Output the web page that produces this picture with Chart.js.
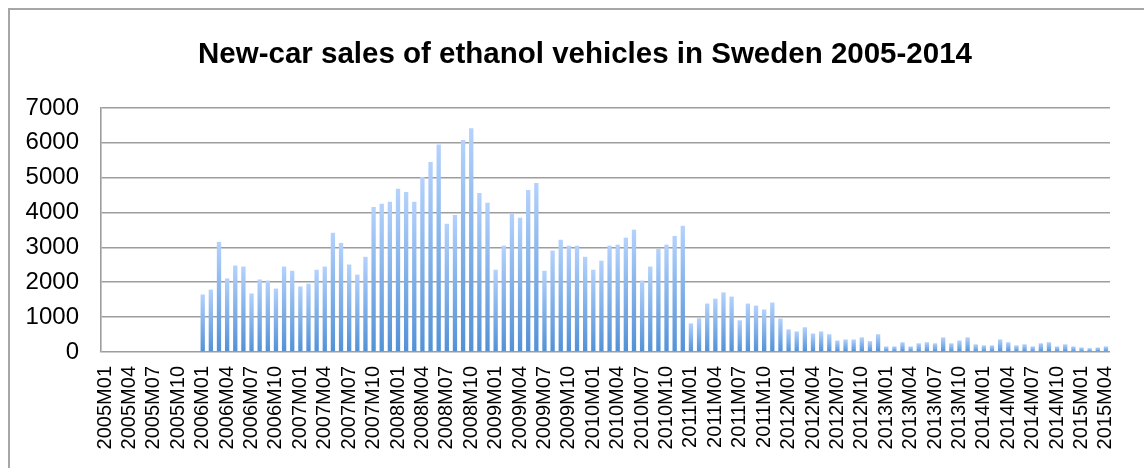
<!DOCTYPE html>
<html>
<head>
<meta charset="utf-8">
<script src="https://cdn.jsdelivr.net/npm/chart.js@4/dist/chart.umd.min.js"></script>
<style>
  html, body { margin: 0; padding: 0; background: #fff; }
  #frame { position: absolute; left: 8px; top: 8px; width: 1200px; height: 500px; border-left: 2px solid #a6a6a6; border-top: 2px solid #a6a6a6; }
  #salesChart { position: absolute; left: 0; top: 0; }
</style>
</head>
<body>
<div id="frame"></div>
<canvas id="salesChart" width="1144" height="468"></canvas>
<script>
const TITLE = "New-car sales of ethanol vehicles in Sweden 2005-2014";
const FONT = "'Liberation Sans', Arial, sans-serif";

// Months 2005M01 .. 2015M04
const years = [2005, 2006, 2007, 2008, 2009, 2010, 2011, 2012, 2013, 2014, 2015];
const monthCodes = ["01", "02", "03", "04", "05", "06", "07", "08", "09", "10", "11", "12"];
const months = [];
for (const y of years) {
  for (const m of monthCodes) {
    if (y === 2015 && Number(m) > 4) break;
    months.push(`${y}M${m}`);
  }
}

// Monthly sales (2005 had no registrations shown)
const sales2005 = [0, 0, 0, 0, 0, 0, 0, 0, 0, 0, 0, 0];
const sales2006 = [1650, 1790, 3160, 2110, 2480, 2450, 1680, 2080, 2050, 1820, 2450, 2330];
const sales2007 = [1880, 1960, 2360, 2450, 3420, 3130, 2510, 2220, 2730, 4160, 4250, 4310];
const sales2008 = [4680, 4590, 4310, 5020, 5450, 5950, 3680, 3930, 6080, 6420, 4560, 4280];
const sales2009 = [2360, 3050, 3990, 3850, 4650, 4850, 2330, 2910, 3220, 3050, 3050, 2730];
const sales2010 = [2360, 2620, 3050, 3080, 3280, 3510, 2050, 2450, 2960, 3080, 3330, 3620];
const sales2011 = [820, 970, 1390, 1530, 1710, 1590, 910, 1390, 1330, 1220, 1420, 960];
const sales2012 = [650, 590, 710, 530, 590, 510, 330, 360, 360, 420, 310, 510];
const sales2013 = [160, 160, 280, 160, 250, 280, 250, 420, 250, 330, 420, 220];
const sales2014 = [190, 190, 360, 280, 190, 220, 160, 250, 280, 160, 220, 160];
const sales2015 = [130, 110, 130, 160];
const sales = [].concat(sales2005, sales2006, sales2007, sales2008, sales2009, sales2010,
  sales2011, sales2012, sales2013, sales2014, sales2015);

const yTicks = { min: 0, max: 7000, step: 1000 };

// Per-bar vertical gradient, light at the top, darker at the base
const barFill = (ctx) => {
  const chart = ctx.chart;
  const yScale = chart.scales.y;
  if (!yScale || ctx.raw === undefined) return "#7fb0ea";
  const top = yScale.getPixelForValue(ctx.raw);
  const base = yScale.getPixelForValue(0);
  if (!(base - top > 0)) return "#7fb0ea";
  const g = chart.ctx.createLinearGradient(0, top, 0, base);
  g.addColorStop(0, "#b4d2fc");
  g.addColorStop(1, "#5291d6");
  return g;
};

// Title drawn by hand so it can sit off-centre like the original (centre x=585)
const titlePlugin = {
  id: "offsetTitle",
  afterDraw: (chart) => {
    const c = chart.ctx;
    c.save();
    c.font = `bold 29.5px ${FONT}`;
    c.fillStyle = "#000";
    c.textAlign = "center";
    c.textBaseline = "alphabetic";
    c.fillText(TITLE, 585, 63);
    c.restore();
  },
};

new Chart(document.getElementById("salesChart"), {
  type: "bar",
  data: {
    labels: months,
    datasets: [{ label: "Sales", data: sales, backgroundColor: barFill, borderWidth: 0, categoryPercentage: 1, barPercentage: 0.53 }],
  },
  options: {
    responsive: false, animation: false,
    layout: { padding: { left: 0, right: 19, top: 108, bottom: 0 } },
    plugins: {
      legend: { display: false },
      tooltip: { enabled: false },
      title: { display: false },
    },
    scales: {
      x: {
        grid: { display: false, drawTicks: false },
        border: { display: false },
        ticks: {
          autoSkip: false, minRotation: 90, maxRotation: 90, padding: 14, color: "#000",
          font: { family: FONT, size: 20 },
          callback: function (v, i) { return i % 3 === 0 ? this.getLabelForValue(v) : ""; },
        },
        afterFit: (s) => { s.height = 116; },
      },
      y: {
        min: yTicks.min, max: yTicks.max,
        grid: { color: "#9d9d9d", lineWidth: 1.6, drawTicks: false },
        border: { display: true, color: "#9d9d9d", width: 1.6 },
        ticks: { stepSize: yTicks.step, padding: 22, color: "#000", font: { family: FONT, size: 24 }, callback: (v) => String(v) },
        afterFit: (s) => { s.width = 101; },
      },
    },
  },
  plugins: [titlePlugin],
});
</script>
</body>
</html>
